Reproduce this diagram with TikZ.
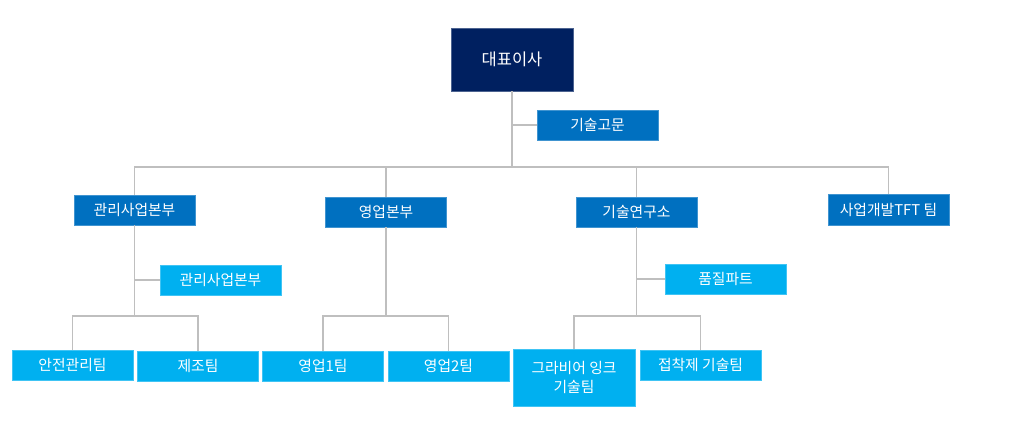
\documentclass[tikz,border=0pt]{standalone}
\usepackage{fontspec}
\setmainfont{Noto Sans CJK KR}
\definecolor{navy}{HTML}{002060}
\definecolor{midblue}{HTML}{0070C0}
\definecolor{lightblue}{HTML}{00B0F0}
\definecolor{linegray}{HTML}{BFBFBF}
\tikzset{
  box/.style={rectangle, minimum width=121pt, minimum height=30pt, inner sep=2pt,
    text=white, font=\fontsize{14.8}{19}\selectfont, line width=0.6pt, align=center},
  topbox/.style={box, fill=navy, draw=navy!70!white, minimum width=122pt, minimum height=63pt,
    font=\fontsize{16.5}{20}\selectfont},
  midbox/.style={box, fill=midblue, draw=midblue!75!white},
  lightbox/.style={box, fill=lightblue, draw=lightblue!75!white},
  conn/.style={draw=linegray, line width=1.6pt}
}
\begin{document}
\begin{tikzpicture}[x=1pt,y=-1pt]
\useasboundingbox (0,0) rectangle (1024,442);
\node[topbox] (ceo) at (512,59.5) {대표이사};
\node[midbox] (adv) at (597.5,125) {기술고문};
\node[midbox] (a1) at (134.5,210) {관리사업본부};
\node[midbox] (a2) at (386,212) {영업본부};
\node[midbox] (a3) at (636.5,212) {기술연구소};
\node[midbox, minimum height=31pt] (a4) at (888.5,210) {사업개발TFT 팀};
\node[lightbox] (s1) at (220.5,280) {관리사업본부};
\node[lightbox] (s3) at (725.5,279) {품질파트};
\node[lightbox] (b1) at (72.5,365) {안전관리팀};
\node[lightbox] (b2) at (198,366) {제조팀};
\node[lightbox] (b3) at (323,366) {영업1팀};
\node[lightbox] (b4) at (448.5,366) {영업2팀};
\node[lightbox, minimum width=122pt, minimum height=57pt] (b5) at (574,377.5) {그라비어 잉크\\기술팀};
\node[lightbox] (b6) at (700.5,365) {접착제 기술팀};
\coordinate (bus) at (512,167);
\coordinate (busL) at (134.5,316);
\coordinate (busM) at (386,316);
\coordinate (busR) at (636.5,316);
\draw[conn] (ceo.south) -- (ceo.south |- bus);
\draw[conn] (adv.west) -- (adv.west -| ceo.south);
\draw[conn] (a1.north) |- (bus) -| (a4.north);
\draw[conn] (a2.north) -- (a2.north |- bus);
\draw[conn] (a3.north) -- (a3.north |- bus);
\draw[conn] (a1.south) -- (busL);
\draw[conn] (s1.west) -- (s1.west -| a1.south);
\draw[conn] (b1.north) |- (busL) -| (b2.north);
\draw[conn] (a2.south) -- (busM);
\draw[conn] (b3.north) |- (busM) -| (b4.north);
\draw[conn] (a3.south) -- (busR);
\draw[conn] (s3.west) -- (s3.west -| a3.south);
\draw[conn] (b5.north) |- (busR) -| (b6.north);
\end{tikzpicture}
\end{document}
